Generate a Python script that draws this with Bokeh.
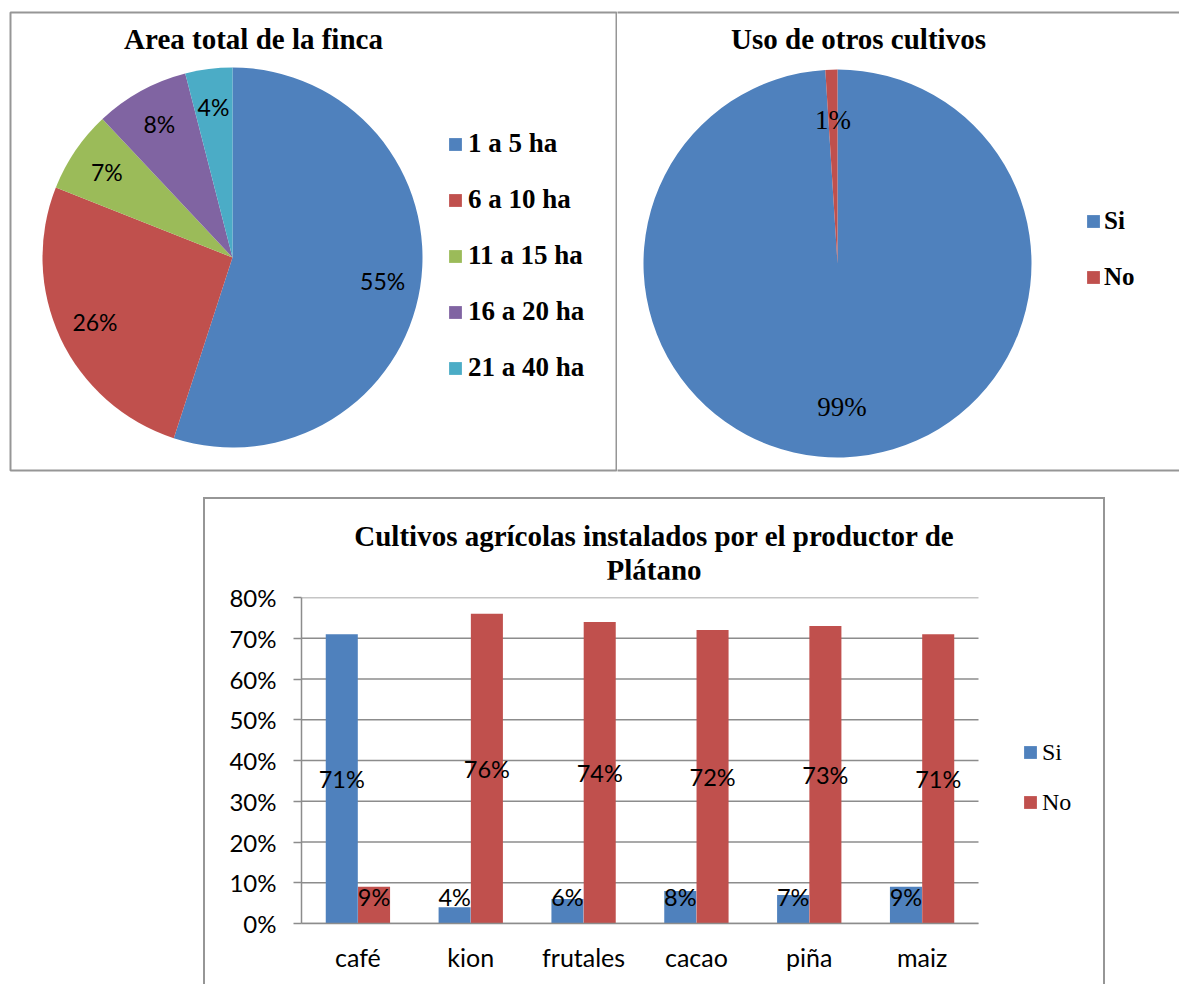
import numpy as np
from bokeh.plotting import figure
from bokeh.models import (ColumnDataSource, Range1d, Legend, LegendItem,
                          Label, BoxAnnotation, NumeralTickFormatter, FixedTicker,
                          Spacer, Div)
from bokeh.layouts import row, column
from bokeh.transform import dodge
from bokeh.core.properties import value
from bokeh.embed import file_html
from bokeh.resources import INLINE

# ---------------- data ----------------
area_labels = ["1 a 5 ha", "6 a 10 ha", "11 a 15 ha", "16 a 20 ha", "21 a 40 ha"]
area_values = [55, 26, 7, 8, 4]
area_colors = ["#4F81BD", "#C0504D", "#9BBB59", "#8064A2", "#4BACC6"]

uso_labels = ["Si", "No"]
uso_values = [99, 1]
uso_colors = ["#4F81BD", "#C0504D"]

cultivos = ["café", "kion", "frutales", "cacao", "piña", "maiz"]
si_values = [0.71, 0.04, 0.06, 0.08, 0.07, 0.09]
no_values = [0.09, 0.76, 0.74, 0.72, 0.73, 0.71]
y_ticks = [0.0, 0.1, 0.2, 0.3, 0.4, 0.5, 0.6, 0.7, 0.8]

BLUE, RED = "#4F81BD", "#C0504D"
BORDER = "#969696"
GRID = "#8c8c8c"
SERIF = "Liberation Serif"
SANS = "Lato"


def pie_source(labels, vals, colors, cx, cy, r, frac):
    v = np.array(vals, dtype=float)
    f = v / v.sum()
    cum = np.concatenate([[0.0], np.cumsum(f)])
    start = np.pi / 2 - 2 * np.pi * cum[:-1]
    end = np.pi / 2 - 2 * np.pi * cum[1:]
    mid = (start + end) / 2
    return ColumnDataSource(dict(
        label=labels, val=vals, color=colors, start=start, end=end,
        tx=cx + frac * r * np.cos(mid), ty=cy + frac * r * np.sin(mid),
        txt=[f"{x}%" for x in vals]))


def blank_fig(w, h):
    p = figure(width=w, height=h, x_range=Range1d(0, w), y_range=Range1d(0, h),
               output_backend="svg", toolbar_location=None,
               x_axis_location=None, y_axis_location=None,
               min_border=0, outline_line_color=None)
    p.grid.visible = False
    p.background_fill_color = "white"
    p.border_fill_color = "white"
    return p


TOP_H = 478

# ---------------- pie 1 ----------------
W1 = 617
p1 = blank_fig(W1, TOP_H)
p1.add_layout(BoxAnnotation(left=10, right=616, bottom=8, top=466,
                            fill_alpha=0, fill_color=None, line_alpha=1.0,
                            line_color=BORDER, line_width=2))
cx1, cy1, r1 = 232, 221, 190
s1 = pie_source(area_labels, area_values, area_colors, cx1, cy1, r1, 0.8)
w1 = p1.wedge(x=cx1, y=cy1, radius=r1, start_angle="start", end_angle="end",
              direction="clock", fill_color="color", line_color=None, source=s1)
p1.text(x="tx", y="ty", text="txt", source=s1, text_align="center",
        text_baseline="middle", text_font=value(SANS), text_font_size="23px",
        text_color="black")
p1.add_layout(Label(x=253, y=440, text="Area total de la finca", text_align="center",
                    text_baseline="middle", text_font=SERIF, text_font_style="bold",
                    text_font_size="29px", text_color="black"))
leg1 = Legend(items=[LegendItem(label=l, renderers=[w1], index=i)
                     for i, l in enumerate(area_labels)],
              location=(447, 95), orientation="vertical",
              label_text_font=SERIF, label_text_font_style="bold",
              label_text_font_size="27px", label_text_color="black",
              glyph_width=16, glyph_height=16, label_height=30, spacing=25,
              label_standoff=5, padding=0, margin=0,
              border_line_color=None, background_fill_alpha=0)
p1.add_layout(leg1)

# ---------------- pie 2 ----------------
W2 = 562
p2 = blank_fig(W2, TOP_H)
p2.add_layout(BoxAnnotation(left=-5, right=2000, bottom=8, top=466,
                            fill_alpha=0, fill_color=None, line_alpha=1.0,
                            line_color=BORDER, line_width=2))
cx2, cy2, r2 = 220, 215, 194
s2 = pie_source(uso_labels, uso_values, uso_colors, cx2, cy2, r2, 0.74)
w2 = p2.wedge(x=cx2, y=cy2, radius=r2, start_angle="start", end_angle="end",
              direction="clock", fill_color="color", line_color=None, source=s2)
p2.text(x="tx", y="ty", text="txt", source=s2, text_align="center",
        text_baseline="middle", text_font=value(SERIF), text_font_size="27px",
        text_color="black")
p2.add_layout(Label(x=241, y=440, text="Uso de otros cultivos", text_align="center",
                    text_baseline="middle", text_font=SERIF, text_font_style="bold",
                    text_font_size="29px", text_color="black"))
leg2 = Legend(items=[LegendItem(label=l, renderers=[w2], index=i)
                     for i, l in enumerate(uso_labels)],
              location=(468, 186), orientation="vertical",
              label_text_font=SERIF, label_text_font_style="bold",
              label_text_font_size="25px", label_text_color="black",
              glyph_width=16, glyph_height=16, label_height=30, spacing=26,
              label_standoff=3, padding=0, margin=0,
              border_line_color=None, background_fill_alpha=0)
p2.add_layout(leg2)

# ---------------- bar chart ----------------
idx = np.arange(len(cultivos))
si = np.array(si_values)
no = np.array(no_values)
s3 = ColumnDataSource(dict(
    x=idx, cat=cultivos, si=si_values, no=no_values,
    si_y=np.maximum(si / 2, 0.064), no_y=np.maximum(no / 2, 0.064),
    si_t=[f"{round(v * 100)}%" for v in si_values],
    no_t=[f"{round(v * 100)}%" for v in no_values]))
grid_src = ColumnDataSource(dict(y=y_ticks))

W3, H3 = 898, 405
ML, MT, MB = 96, 18, 61
PLOT_W = 677            # width of the category area in pixels
frame_w = W3 - ML
x_lo = -0.5
x_hi_cat = len(cultivos) - 0.5
x_hi = x_lo + len(cultivos) * frame_w / PLOT_W

p3 = figure(width=W3, height=H3, x_range=Range1d(x_lo, x_hi),
            y_range=Range1d(0, 0.8), output_backend="svg", toolbar_location=None,
            min_border_left=ML, min_border_right=0, min_border_top=MT,
            min_border_bottom=MB, outline_line_color=None)
p3.background_fill_color = "white"
p3.border_fill_color = "white"

off = 0.143
bw = 0.284
p3.segment(x0=x_lo, x1=x_hi_cat, y0="y", y1="y", source=grid_src,
           line_color=GRID, line_width=1.5)
rsi = p3.vbar(x=dodge("x", -off), top="si", width=bw, bottom=0,
              source=s3, fill_color=BLUE, line_color=None)
rno = p3.vbar(x=dodge("x", off), top="no", width=bw, bottom=0,
              source=s3, fill_color=RED, line_color=None)
p3.text(x=dodge("x", -off), y="si_y", text="si_t", source=s3,
        text_align="center", text_baseline="middle", text_font=value(SANS),
        text_font_size="23.5px", text_color="black")
p3.text(x=dodge("x", off), y="no_y", text="no_t", source=s3,
        text_align="center", text_baseline="middle", text_font=value(SANS),
        text_font_size="23.5px", text_color="black")

p3.grid.visible = False
p3.yaxis.ticker = FixedTicker(ticks=y_ticks)
p3.yaxis.formatter = NumeralTickFormatter(format="0%")
p3.yaxis.axis_line_color = GRID
p3.yaxis.axis_line_width = 1.5
p3.yaxis.major_tick_line_color = GRID
p3.yaxis.major_tick_line_width = 1.5
p3.yaxis.major_tick_out = 8
p3.yaxis.major_tick_in = 0
p3.yaxis.minor_tick_line_color = None
p3.yaxis.major_label_standoff = 17
p3.yaxis.major_label_text_font = SANS
p3.yaxis.major_label_text_font_size = "24px"
p3.yaxis.major_label_text_color = "black"
p3.xaxis.ticker = FixedTicker(ticks=list(idx))
p3.xaxis.major_label_overrides = {int(i): c for i, c in zip(idx, cultivos)}
p3.xaxis.bounds = (x_lo, x_hi_cat)
p3.xaxis.axis_line_color = GRID
p3.xaxis.axis_line_width = 1.5
p3.xaxis.major_tick_line_color = None
p3.xaxis.minor_tick_line_color = None
p3.xaxis.major_tick_out = 0
p3.xaxis.major_tick_in = 0
p3.xaxis.major_label_standoff = 18
p3.xaxis.major_label_text_font = SANS
p3.xaxis.major_label_text_font_size = "25px"
p3.xaxis.major_label_text_color = "black"

leg3 = Legend(items=[LegendItem(label="Si", renderers=[rsi]),
                     LegendItem(label="No", renderers=[rno])],
              location=(721, 107), orientation="vertical",
              label_text_font=SERIF, label_text_font_size="24px",
              label_text_color="black",
              glyph_width=16, glyph_height=16, label_height=28, spacing=22,
              label_standoff=4, padding=0, margin=0,
              border_line_color=None, background_fill_alpha=0)
p3.add_layout(leg3)

title_html = ("<div style=\"width:898px;text-align:center;font-family:'Liberation Serif';"
              "font-weight:bold;font-size:29px;line-height:34px;color:#000;"
              "padding-top:20px;\">Cultivos agrícolas instalados por el productor de"
              "<br>Plátano</div>")
title3 = Div(text=title_html, width=W3, height=80, margin=0)

box = column(title3, p3, styles={"border-top": f"2px solid {BORDER}",
                                 "border-left": f"2px solid {BORDER}",
                                 "border-right": f"2px solid {BORDER}"})
bottom = row(Spacer(width=203, height=500, margin=0),
             column(Spacer(width=10, height=19, margin=0), box))

layout = column(row(p1, p2), bottom)
open("out.html", "w").write(file_html(layout, INLINE))
